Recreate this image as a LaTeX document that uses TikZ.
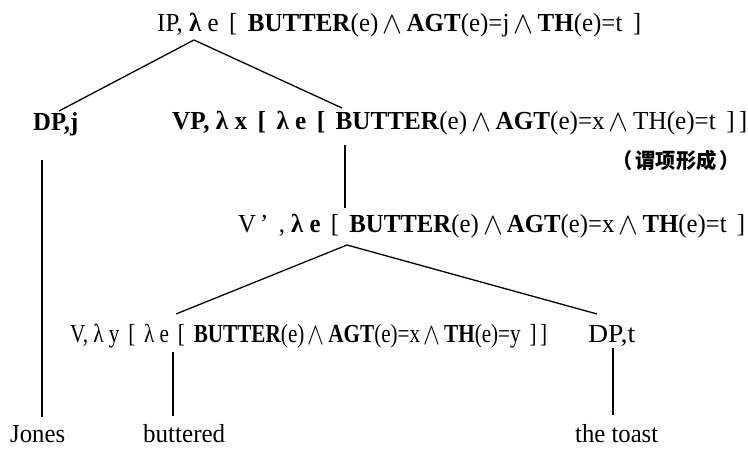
\documentclass[tikz,border=0pt]{standalone}
\usepackage{fontspec}
\usepackage{graphicx}
\setmainfont{Liberation Serif}
\newfontfamily\cjk{Noto Sans CJK SC}
\newcommand{\fitw}[2]{\resizebox{#1}{\height}{#2}}
\newcommand{\andop}{\,\raisebox{-0.05em}{\scalebox{1.25}{$\wedge$}}\,}
\begin{document}
\begin{tikzpicture}[x=1pt,y=-1pt,
  lbl/.style={anchor=base west, inner sep=0pt, font=\fontsize{26}{30}\selectfont},
  note/.style={anchor=base west, inner sep=0pt, font=\cjk\bfseries\fontsize{21}{24}\selectfont},
  edge/.style={line width=1.3pt}]
\useasboundingbox (0,0) rectangle (748,449);
% labels
\node[lbl] (ip) at (157,32) {\fitw{484pt}{IP, \textbf{λ} e \,[\, \textbf{BUTTER}(e)\andop\textbf{AGT}(e)=j\andop\textbf{TH}(e)=t \,]}};
\node[lbl] (dpj) at (33,131) {\fitw{45pt}{\textbf{DP,j}}};
\node[lbl] (vp) at (172,130) {\fitw{575pt}{\textbf{VP, λ x \,[\, λ e \,[\, BUTTER}(e)\andop\textbf{AGT}(e)=x\andop TH(e)=t \,]\,]}};
\node[note] (pred) at (612,169) {\fitw{128pt}{（\,谓项形成\,）}};
\node[lbl] (vbar) at (238,233) {\fitw{507pt}{V\,’\, , \textbf{λ e} \,[\, \textbf{BUTTER}(e)\andop\textbf{AGT}(e)=x\andop\textbf{TH}(e)=t \,]}};
\node[lbl] (v) at (70,343) {\fitw{477pt}{V, λ y \,[\, λ e \,[\, \textbf{BUTTER}(e)\andop\textbf{AGT}(e)=x\andop\textbf{TH}(e)=y \,]\,]}};
\node[lbl] (dpt) at (588,342) {\fitw{47pt}{DP,t}};
\node[lbl] (jones) at (10,442) {\fitw{55pt}{Jones}};
\node[lbl] (buttered) at (143,442) {\fitw{82pt}{buttered}};
\node[lbl] (toast) at (575,442) {\fitw{83pt}{the toast}};
% attachment points
\coordinate (ipB) at (194,40);
\coordinate (dpjT) at (59,111);
\coordinate (vpT) at (342,108);
\coordinate (vpB) at (345,145);
\coordinate (vbarT) at (345,208);
\coordinate (vbarB) at (347,245);
\coordinate (vT) at (176,314);
\coordinate (dptT) at (597,314);
\coordinate (dpjB) at (42,160);
\coordinate (jonesT) at (42,417);
\coordinate (vB) at (173,352);
\coordinate (butteredT) at (173,416);
\coordinate (dptB) at (613,348);
\coordinate (toastT) at (613,415);
% connectors
\draw[edge] (dpjT) -- (ipB) -- (vpT);
\draw[edge] (vpB) -- (vbarT);
\draw[edge] (vT) -- (vbarB) -- (dptT);
\draw[edge] (dpjB) -- (jonesT);
\draw[edge] (vB) -- (butteredT);
\draw[edge] (dptB) -- (toastT);
\end{tikzpicture}
\end{document}
